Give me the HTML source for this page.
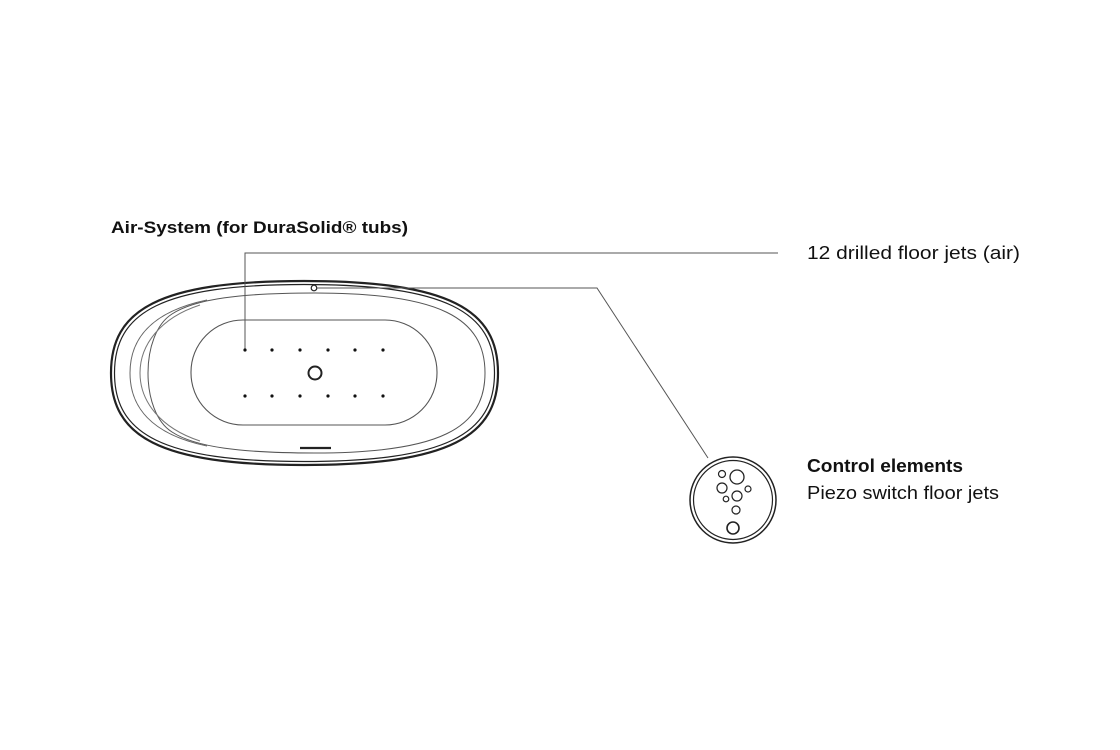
<!DOCTYPE html>
<html><head><style>
body{margin:0;background:#fff;width:1120px;height:750px;overflow:hidden}
svg{display:block}
text{font-family:"Liberation Sans",sans-serif;fill:#111}
</style></head><body>
<svg width="1120" height="750" viewBox="0 0 1120 750">
<text x="111" y="233" font-size="17" font-weight="bold" textLength="297" lengthAdjust="spacingAndGlyphs">Air-System (for DuraSolid® tubs)</text>
<text x="807" y="259" font-size="18" textLength="213" lengthAdjust="spacingAndGlyphs">12 drilled floor jets (air)</text>
<text x="807" y="472" font-size="18" font-weight="bold" textLength="156" lengthAdjust="spacingAndGlyphs">Control elements</text>
<text x="807" y="499" font-size="18" textLength="192" lengthAdjust="spacingAndGlyphs">Piezo switch floor jets</text>
<g fill="none" stroke="#222">
<path d="M304,281 C450,281 498,310 498,373 C498,436 450,465 304,465 C158,465 111,436 111,373 C111,310 158,281 304,281Z" stroke-width="2.2"/>
<path d="M304,284.5 C446,284.5 494.5,312 494.5,373 C494.5,434 446,461.5 304,461.5 C162,461.5 114.5,434 114.5,373 C114.5,312 162,284.5 304,284.5Z" stroke-width="1.2"/>
<path d="M315,293 C440,293 485,318 485,373 C485,428 440,453 315,453 C240,453 195,447 172,432 C140,412 140,334 172,314 C195,299 240,293 315,293Z" stroke="#555" stroke-width="1"/>
<path d="M207,300 C150,312 130,340 130,373 C130,406 150,434 207,446" stroke="#666"/>
<path d="M200,305 C160,318 140,345 140,373 C140,401 160,428 200,441" stroke="#777"/>
<rect x="191" y="320" width="246" height="105" rx="52" stroke="#555" stroke-width="1.1"/>
<circle cx="315" cy="373" r="6.5" stroke-width="2"/>
<circle cx="314" cy="288" r="2.8" stroke-width="1.2"/>
<line x1="300" y1="448" x2="331" y2="448" stroke-width="2.2"/>
<path d="M245,350 V253 H778" stroke="#555" stroke-width="1"/>
<path d="M317,288 H597 L708,458" stroke="#555" stroke-width="1"/>
<circle cx="733" cy="500" r="43" stroke-width="1.5"/>
<circle cx="733" cy="500" r="39.5" stroke-width="1.2"/>
<circle cx="737" cy="477" r="7" stroke-width="1.3"/>
<circle cx="722" cy="474" r="3.5" stroke-width="1.2"/>
<circle cx="722" cy="488" r="5" stroke-width="1.2"/>
<circle cx="737" cy="496" r="5" stroke-width="1.2"/>
<circle cx="748" cy="489" r="3" stroke-width="1.2"/>
<circle cx="726" cy="499" r="2.8" stroke-width="1.2"/>
<circle cx="736" cy="510" r="4" stroke-width="1.2"/>
<circle cx="733" cy="528" r="6" stroke-width="1.6"/>
</g>
<g fill="#111">
<circle cx="245" cy="350" r="1.6"/><circle cx="272" cy="350" r="1.6"/><circle cx="300" cy="350" r="1.6"/><circle cx="328" cy="350" r="1.6"/><circle cx="355" cy="350" r="1.6"/><circle cx="383" cy="350" r="1.6"/>
<circle cx="245" cy="396" r="1.6"/><circle cx="272" cy="396" r="1.6"/><circle cx="300" cy="396" r="1.6"/><circle cx="328" cy="396" r="1.6"/><circle cx="355" cy="396" r="1.6"/><circle cx="383" cy="396" r="1.6"/>
</g>
</svg>
</body></html>
